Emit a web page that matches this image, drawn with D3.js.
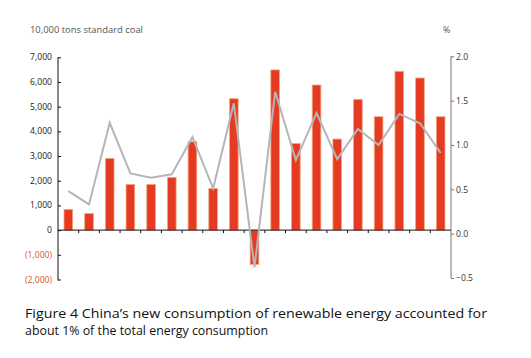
<!DOCTYPE html>
<html><head><meta charset="utf-8">
<script src="https://cdn.jsdelivr.net/npm/d3@7/dist/d3.min.js"></script>
<style>body{margin:0;background:#fff;}svg{display:block;}</style>
</head><body><svg id="c" width="531" height="358"></svg>
<script>
const categories = d3.range(1, 20).map(String);
const consumption = [838, 676, 2906, 1852, 1852, 2136, 3580, 1690, 5323, -1390, 6490, 3514, 5878, 3689, 5298, 4593, 6433, 6161, 4593];
const share = [0.48, 0.33, 1.25, 0.68, 0.63, 0.67, 1.09, 0.51, 1.47, -0.38, 1.60, 0.83, 1.36, 0.84, 1.18, 1.00, 1.35, 1.245, 0.91];
const leftTicks = [-2000, -1000, 0, 1000, 2000, 3000, 4000, 5000, 6000, 7000];
const rightTicks = [-0.5, 0, 0.5, 1.0, 1.5, 2.0];
const leftTitle = "10,000 tons standard coal";
const rightTitle = "%";
const captionLines = ["Figure 4 China\u2019s new consumption of renewable energy accounted for", "about 1% of the total energy consumption"];

const svg = d3.select("#c");
const xL = 58, xR = 451;
const x = d3.scaleBand().domain(categories).range([xL, xR]).paddingInner(0.58).paddingOuter(0.29);
const xb = d3.scaleBand().domain(categories).range([xL, xR]);
const yL = d3.scaleLinear().domain([-2000, 7000]).range([279.5, 57.3]);
const yR = d3.scaleLinear().domain([-0.5, 2.0]).range([278, 56.3]);
const font = "'Open Sans', 'Noto Sans', sans-serif";

// bars
svg.append("g").selectAll("rect").data(consumption).join("rect")
  .attr("x", (d, i) => x(categories[i]))
  .attr("width", x.bandwidth())
  .attr("y", d => yL(Math.max(0, d)))
  .attr("height", d => Math.abs(yL(d) - yL(0)))
  .attr("fill", "#e63b23")
  .attr("stroke", "#f7a77f").attr("stroke-width", 0.8);

// left axis
const gL = svg.append("g").attr("transform", `translate(${xL},0)`)
  .call(d3.axisRight(yL).tickValues(leftTicks).tickSize(3).tickFormat(""));
gL.select(".domain").attr("stroke", "#111").attr("d", `M0,${yL(-2000)+1}V${yL(7000)}`);
gL.selectAll(".tick line").attr("stroke", "#111");
svg.append("g").selectAll("text").data(leftTicks).join("text")
  .attr("x", 52).attr("y", d => yL(d)).attr("dy", "0.35em")
  .attr("text-anchor", "end").attr("font-family", font).attr("font-size", 8.6)
  .attr("fill", d => d < 0 ? "#d4552f" : "#222")
  .text(d => d < 0 ? "(" + d3.format(",")(-d) + ")" : d3.format(",")(d));

// right axis
const gR = svg.append("g").attr("transform", `translate(${xR},0)`)
  .call(d3.axisRight(yR).tickValues(rightTicks).tickSize(3).tickPadding(2).tickFormat(d3.format(".1f")));
gR.select(".domain").attr("stroke", "#777").attr("d", `M0,${yR(-0.5)}V${yR(2.0)}`);
gR.selectAll(".tick line").attr("stroke", "#777");
gR.selectAll(".tick text").attr("font-family", font).attr("font-size", 8.6).attr("fill", "#333");
gR.selectAll(".tick text").text(d => d < 0 ? "\u22120.5" : d3.format(".1f")(d));

// zero line + ticks at band boundaries
svg.append("line").attr("x1", xL).attr("x2", xR).attr("y1", yL(0)).attr("y2", yL(0))
  .attr("stroke", "#111").attr("stroke-width", 1);
svg.append("g").selectAll("line").data(categories.slice(1)).join("line")
  .attr("x1", d => xb(d)).attr("x2", d => xb(d))
  .attr("y1", yL(0)).attr("y2", yL(0) + 3).attr("stroke", "#111");

// line
svg.append("path").datum(share)
  .attr("d", d3.line().x((d, i) => x(categories[i]) + x.bandwidth() / 2).y(d => yR(d)))
  .attr("fill", "none").attr("stroke", "#b5b5ba").attr("stroke-width", 2);

// titles
svg.append("text").attr("x", 30).attr("y", 32.5).attr("font-family", font).attr("font-size", 9)
  .attr("fill", "#555").attr("textLength", 113).attr("lengthAdjust", "spacingAndGlyphs").text(leftTitle);
svg.append("text").attr("x", 443).attr("y", 32.5).attr("font-family", font).attr("font-size", 9)
  .attr("fill", "#555").text(rightTitle);

// caption
const capLen = [462, 243];
svg.append("g").selectAll("text").data(captionLines).join("text")
  .attr("x", 25).attr("y", (d, i) => 318 + i * 16.5)
  .attr("font-family", font).attr("font-size", 13).attr("fill", "#111")
  .attr("textLength", (d, i) => capLen[i]).attr("lengthAdjust", "spacingAndGlyphs")
  .text(d => d);
</script></body></html>
